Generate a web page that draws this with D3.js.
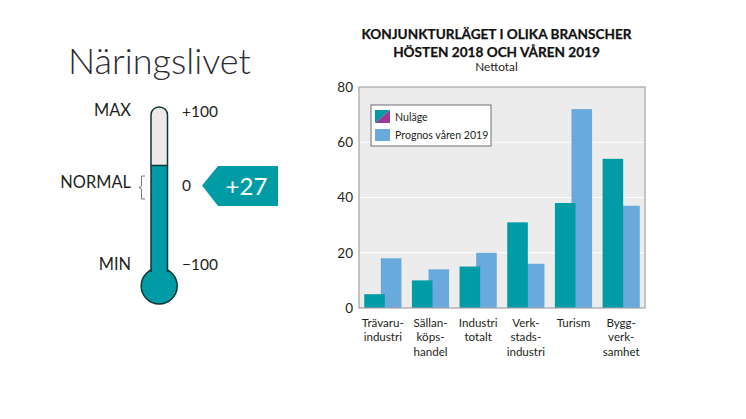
<!DOCTYPE html>
<html>
<head>
<meta charset="utf-8">
<script src="https://cdn.jsdelivr.net/npm/d3@7"></script>
<style>
  html, body { margin: 0; padding: 0; background: #fff; }
  svg { display: block; font-family: Lato, sans-serif; }
</style>
</head>
<body>
<div id="chart"></div>
<script>
const categories = [
  ["Trävaru-", "industri"],
  ["Sällan-", "köps-", "handel"],
  ["Industri", "totalt"],
  ["Verk-", "stads-", "industri"],
  ["Turism"],
  ["Bygg-", "verk-", "samhet"]
];
const nulage = [5, 10, 15, 31, 38, 54];
const prognos = [18, 14, 20, 16, 72, 37];
const yTicks = [0, 20, 40, 60, 80];
const legendLabels = ["Nuläge", "Prognos våren 2019"];
const titleLines = ["KONJUNKTURLÄGET I OLIKA BRANSCHER", "HÖSTEN 2018 OCH VÅREN 2019"];
const gaugeValue = 27;
const gaugeTicks = [
  { value: 100, left: "MAX", right: "+100" },
  { value: 0, left: "NORMAL", right: "0" },
  { value: -100, left: "MIN", right: "\u2212100" }
];

const teal = "#009ca6";
const blue = "#69a9dc";
const ink = "#231f20";

const svg = d3.select("#chart").append("svg")
  .attr("width", 746)
  .attr("height", 419);

// ---- thermometer ----
svg.append("text")
  .attr("x", 68).attr("y", 74)
  .attr("font-size", 36).attr("font-weight", 300)
  .attr("fill", "#2b2b33")
  .text("Näringslivet");

const gaugeY = d3.scaleLinear().domain([-100, 100]).range([262, 110]);
const tubeLeft = 151, tubeRight = 167.5, tubeMid = 159.2, tubeTop = 107;
const bulbY = 286, bulbR = 18;

const thermo = svg.append("g");
const tubePath = d3.path();
tubePath.moveTo(tubeLeft, bulbY - 14);
tubePath.lineTo(tubeLeft, tubeTop + 7);
tubePath.arcTo(tubeLeft, tubeTop, tubeMid, tubeTop, 8);
tubePath.arcTo(tubeRight, tubeTop, tubeRight, tubeTop + 7, 8);
tubePath.lineTo(tubeRight, bulbY - 14);

thermo.append("path")
  .attr("d", tubePath.toString())
  .attr("fill", "#ece9e6");
thermo.append("rect")
  .attr("x", tubeLeft).attr("width", tubeRight - tubeLeft)
  .attr("y", gaugeY(gaugeValue))
  .attr("height", bulbY - gaugeY(gaugeValue))
  .attr("fill", teal);
thermo.append("line")
  .attr("x1", tubeLeft).attr("x2", tubeRight)
  .attr("y1", gaugeY(gaugeValue)).attr("y2", gaugeY(gaugeValue))
  .attr("stroke", "#10343a").attr("stroke-width", 1.5);
thermo.append("circle")
  .attr("cx", tubeMid).attr("cy", bulbY).attr("r", bulbR)
  .attr("fill", teal).attr("stroke", "#10343a").attr("stroke-width", 1.5);
thermo.append("rect")
  .attr("x", tubeLeft + 0.8).attr("width", tubeRight - tubeLeft - 1.6)
  .attr("y", bulbY - 20).attr("height", 8)
  .attr("fill", teal);
thermo.append("path")
  .attr("d", tubePath.toString())
  .attr("fill", "none").attr("stroke", "#10343a").attr("stroke-width", 1.5);

const gaugeRows = svg.append("g").selectAll("g")
  .data(gaugeTicks)
  .join("g")
  .attr("transform", d => `translate(0,${gaugeY(d.value)})`)
  .attr("fill", ink);
gaugeRows.append("text")
  .attr("x", 131)
  .attr("y", d => d.value === 0 ? 2 : d.value > 0 ? 6 : 8)
  .attr("text-anchor", "end")
  .attr("font-size", 16.4)
  .text(d => d.left);
gaugeRows.append("text")
  .attr("x", 182)
  .attr("y", d => d.value === 0 ? 5 : d.value > 0 ? 7 : 8)
  .attr("font-size", 15.5)
  .text(d => d.right);

// brace next to NORMAL
svg.append("path")
  .attr("d", "M145,176 H141.5 V185 Q141.5,187.5 139,187.5 Q141.5,187.5 141.5,190 V199 H145")
  .attr("fill", "none").attr("stroke", "#555").attr("stroke-width", 0.8);

// value arrow
svg.append("path")
  .attr("d", "M202,185.5 L218,166 H278 V206 H218 Z")
  .attr("fill", teal);
svg.append("text")
  .attr("x", 246.5).attr("y", 194.5)
  .attr("text-anchor", "middle")
  .attr("font-size", 24).attr("fill", "#fff")
  .text(`+${gaugeValue}`);

// ---- bar chart ----
svg.append("g").selectAll("text")
  .data(titleLines)
  .join("text")
  .attr("x", 496.5)
  .attr("y", (d, i) => 39 + i * 17.5)
  .attr("text-anchor", "middle")
  .attr("font-size", 13.6).attr("font-weight", 700)
  .attr("fill", "#111").attr("stroke", "#111").attr("stroke-width", 0.25)
  .text(d => d);
svg.append("text")
  .attr("x", 496.5).attr("y", 71)
  .attr("text-anchor", "middle")
  .attr("font-size", 11.8).attr("fill", ink)
  .text("Nettotal");

const margin = { top: 87, right: 101, bottom: 111, left: 359 };
const innerW = 746 - margin.left - margin.right;
const innerH = 419 - margin.top - margin.bottom;

const x = d3.scaleBand().domain(d3.range(categories.length)).range([0, innerW]);
const y = d3.scaleLinear().domain([0, 80]).range([innerH, 0]);
const barW = 20.6, overlap = 4;

const plot = svg.append("g")
  .attr("transform", `translate(${margin.left},${margin.top})`);

plot.append("rect")
  .attr("width", innerW).attr("height", innerH)
  .attr("fill", "#ececec");

plot.append("g").selectAll("line")
  .data(yTicks.slice(1, -1))
  .join("line")
  .attr("x1", 0).attr("x2", innerW)
  .attr("y1", d => y(d)).attr("y2", d => y(d))
  .attr("stroke", "#fff").attr("stroke-width", 1);

const groupMid = i => x(i) + x.bandwidth() / 2;

// blue first, the teal bars sit on top where they overlap
plot.append("g").selectAll("rect")
  .data(prognos)
  .join("rect")
  .attr("x", (d, i) => groupMid(i) - overlap / 2)
  .attr("width", barW)
  .attr("y", d => y(d))
  .attr("height", d => y(0) - y(d))
  .attr("fill", blue);

plot.append("g").selectAll("rect")
  .data(nulage)
  .join("rect")
  .attr("x", (d, i) => groupMid(i) + overlap / 2 - barW)
  .attr("width", barW)
  .attr("y", d => y(d))
  .attr("height", d => y(0) - y(d))
  .attr("fill", teal);

plot.append("rect")
  .attr("width", innerW).attr("height", innerH)
  .attr("fill", "none").attr("stroke", "#a3a3a3").attr("stroke-width", 1.2);

const yAxis = plot.append("g")
  .call(d3.axisLeft(y).tickValues(yTicks).tickSize(0).tickPadding(6));
yAxis.select(".domain").remove();
yAxis.selectAll("text")
  .attr("font-family", "Lato, sans-serif")
  .attr("font-size", 13.5)
  .attr("fill", ink);

const xLabels = plot.append("g").selectAll("text")
  .data(categories)
  .join("text")
  .attr("text-anchor", "middle")
  .attr("font-size", 11.6)
  .attr("fill", ink);
xLabels.selectAll("tspan")
  .data((d, i) => d.map((line, k) => ({ line, k, i })))
  .join("tspan")
  .attr("x", d => groupMid(d.i))
  .attr("y", d => innerH + 18.5 + d.k * 14.5)
  .text(d => d.line);

// legend
const legend = plot.append("g").attr("transform", "translate(12,18)");
legend.append("rect")
  .attr("width", 120).attr("height", 41)
  .attr("fill", "#fff").attr("stroke", "#6e6e6e").attr("stroke-width", 1);
legend.append("path").attr("d", "M4,5 H19 L4,18 Z").attr("fill", teal);
legend.append("path").attr("d", "M19,5 V18 H4 Z").attr("fill", "#9c3a97");
legend.append("rect")
  .attr("x", 4).attr("y", 24).attr("width", 15).attr("height", 12)
  .attr("fill", blue);
legend.selectAll("text")
  .data(legendLabels)
  .join("text")
  .attr("x", 24)
  .attr("y", (d, i) => 16 + i * 18.3)
  .attr("font-size", 10.6)
  .attr("fill", ink)
  .text(d => d);
</script>
</body>
</html>
